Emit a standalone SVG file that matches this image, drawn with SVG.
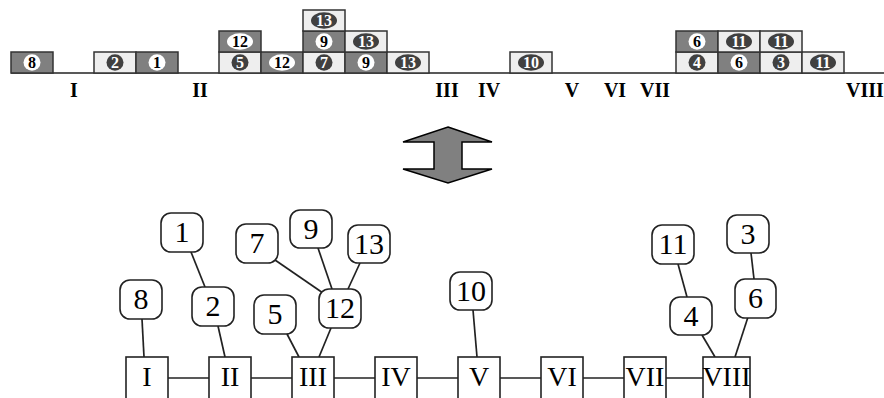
<svg xmlns="http://www.w3.org/2000/svg" width="884" height="398" viewBox="0 0 884 398">
<style>
.dk{fill:#808080;stroke:#333;stroke-width:1.5}
.lt{fill:#eeeeee;stroke:#333;stroke-width:1.5}
.we{fill:#ffffff}
.de{fill:#404040}
.wt{font-family:"Liberation Serif",serif;font-weight:bold;font-size:16px;fill:#000;text-anchor:middle}
.dt{font-family:"Liberation Serif",serif;font-weight:bold;font-size:16px;fill:#fff;text-anchor:middle}
.rl{font-family:"Liberation Serif",serif;font-weight:bold;font-size:20px;fill:#000;text-anchor:middle}
.sq{fill:#fff;stroke:#222;stroke-width:1.6}
.rn{fill:#fff;stroke:#222;stroke-width:1.6}
.bt{font-family:"Liberation Serif",serif;font-size:28px;fill:#000;text-anchor:middle}
.nt{font-family:"Liberation Serif",serif;font-size:30px;fill:#000;text-anchor:middle}
.ln{stroke:#222;stroke-width:1.7;fill:none}
</style>
<g id="timeline">
<line x1="11" y1="73" x2="884" y2="73" class="ln"/>
<text x="74" y="97" class="rl">I</text>
<text x="200" y="97" class="rl">II</text>
<text x="447" y="97" class="rl">III</text>
<text x="489" y="97" class="rl">IV</text>
<text x="572" y="97" class="rl">V</text>
<text x="615" y="97" class="rl">VI</text>
<text x="655" y="97" class="rl">VII</text>
<text x="865" y="97" class="rl">VIII</text>
</g>
<g id="top-blocks">
<rect x="11" y="52" width="42" height="21" class="dk"/><ellipse cx="32" cy="62.5" rx="8.5" ry="8.3" class="we"/><text x="32" y="68" class="wt">8</text>
<rect x="94" y="52" width="42" height="21" class="lt"/><ellipse cx="115" cy="62.5" rx="8.5" ry="8.3" class="de"/><text x="115" y="68" class="dt">2</text>
<rect x="136" y="52" width="42" height="21" class="dk"/><ellipse cx="157" cy="62.5" rx="8.5" ry="8.3" class="we"/><text x="157" y="68" class="wt">1</text>
<rect x="219" y="52" width="42" height="21" class="lt"/><ellipse cx="240" cy="62.5" rx="8.5" ry="8.3" class="de"/><text x="240" y="68" class="dt">5</text>
<rect x="261" y="52" width="42" height="21" class="dk"/><ellipse cx="282" cy="62.5" rx="13" ry="8.3" class="we"/><text x="282" y="68" class="wt">12</text>
<rect x="303" y="52" width="42" height="21" class="lt"/><ellipse cx="324" cy="62.5" rx="8.5" ry="8.3" class="de"/><text x="324" y="68" class="dt">7</text>
<rect x="345" y="52" width="42" height="21" class="dk"/><ellipse cx="366" cy="62.5" rx="8.5" ry="8.3" class="we"/><text x="366" y="68" class="wt">9</text>
<rect x="387" y="52" width="42" height="21" class="lt"/><ellipse cx="408" cy="62.5" rx="13" ry="8.3" class="de"/><text x="408" y="68" class="dt">13</text>
<rect x="510" y="52" width="42" height="21" class="lt"/><ellipse cx="531" cy="62.5" rx="13" ry="8.3" class="de"/><text x="531" y="68" class="dt">10</text>
<rect x="676" y="52" width="42" height="21" class="lt"/><ellipse cx="697" cy="62.5" rx="8.5" ry="8.3" class="de"/><text x="697" y="68" class="dt">4</text>
<rect x="718" y="52" width="42" height="21" class="dk"/><ellipse cx="739" cy="62.5" rx="8.5" ry="8.3" class="we"/><text x="739" y="68" class="wt">6</text>
<rect x="760" y="52" width="42" height="21" class="lt"/><ellipse cx="781" cy="62.5" rx="8.5" ry="8.3" class="de"/><text x="781" y="68" class="dt">3</text>
<rect x="802" y="52" width="42" height="21" class="lt"/><ellipse cx="823" cy="62.5" rx="13" ry="8.3" class="de"/><text x="823" y="68" class="dt">11</text>
<rect x="219" y="31" width="42" height="21" class="dk"/><ellipse cx="240" cy="41.5" rx="13" ry="8.3" class="we"/><text x="240" y="47" class="wt">12</text>
<rect x="303" y="31" width="42" height="21" class="dk"/><ellipse cx="324" cy="41.5" rx="8.5" ry="8.3" class="we"/><text x="324" y="47" class="wt">9</text>
<rect x="345" y="31" width="42" height="21" class="lt"/><ellipse cx="366" cy="41.5" rx="13" ry="8.3" class="de"/><text x="366" y="47" class="dt">13</text>
<rect x="676" y="31" width="42" height="21" class="dk"/><ellipse cx="697" cy="41.5" rx="8.5" ry="8.3" class="we"/><text x="697" y="47" class="wt">6</text>
<rect x="718" y="31" width="42" height="21" class="lt"/><ellipse cx="739" cy="41.5" rx="13" ry="8.3" class="de"/><text x="739" y="47" class="dt">11</text>
<rect x="760" y="31" width="42" height="21" class="lt"/><ellipse cx="781" cy="41.5" rx="13" ry="8.3" class="de"/><text x="781" y="47" class="dt">11</text>
<rect x="303" y="10" width="42" height="21" class="lt"/><ellipse cx="324" cy="20.5" rx="13" ry="8.3" class="de"/><text x="324" y="26" class="dt">13</text>
</g>
<g id="arrow">
<polygon points="448,127 492,142 462,142 462,169 492,169 448,183 403,169 434,169 434,142 403,142" fill="#808080" stroke="#000" stroke-width="1.5" stroke-linejoin="miter"/>
</g>
<g id="connectors">
<line x1="168" y1="378" x2="209" y2="378" class="ln"/>
<line x1="251" y1="378" x2="292" y2="378" class="ln"/>
<line x1="334" y1="378" x2="375" y2="378" class="ln"/>
<line x1="417" y1="378" x2="458" y2="378" class="ln"/>
<line x1="500" y1="378" x2="541" y2="378" class="ln"/>
<line x1="583" y1="378" x2="624" y2="378" class="ln"/>
<line x1="666" y1="378" x2="703" y2="378" class="ln"/>
<line x1="142" y1="319" x2="144" y2="357" class="ln"/>
<line x1="191" y1="252" x2="205" y2="287" class="ln"/>
<line x1="218" y1="326" x2="225" y2="357" class="ln"/>
<line x1="287" y1="334" x2="299" y2="357" class="ln"/>
<line x1="331" y1="328" x2="319" y2="357" class="ln"/>
<line x1="275" y1="260" x2="323" y2="293" class="ln"/>
<line x1="318" y1="248" x2="332" y2="289" class="ln"/>
<line x1="360" y1="263" x2="348" y2="289" class="ln"/>
<line x1="473" y1="310" x2="477" y2="357" class="ln"/>
<line x1="678" y1="264" x2="687" y2="297" class="ln"/>
<line x1="702" y1="335" x2="715" y2="357" class="ln"/>
<line x1="748" y1="317" x2="735" y2="357" class="ln"/>
<line x1="751" y1="253" x2="754" y2="279" class="ln"/>
</g>
<g id="n-I"><rect x="126" y="357" width="42" height="60" class="sq"/><text x="147" y="386" class="bt">I</text></g>
<g id="n-II"><rect x="209" y="357" width="42" height="60" class="sq"/><text x="230" y="386" class="bt">II</text></g>
<g id="n-III"><rect x="292" y="357" width="42" height="60" class="sq"/><text x="313" y="386" class="bt">III</text></g>
<g id="n-IV"><rect x="375" y="357" width="42" height="60" class="sq"/><text x="396" y="386" class="bt">IV</text></g>
<g id="n-V"><rect x="458" y="357" width="42" height="60" class="sq"/><text x="479" y="386" class="bt">V</text></g>
<g id="n-VI"><rect x="541" y="357" width="42" height="60" class="sq"/><text x="562" y="386" class="bt">VI</text></g>
<g id="n-VII"><rect x="624" y="357" width="42" height="60" class="sq"/><text x="645" y="386" class="bt">VII</text></g>
<g id="n-VIII"><rect x="703" y="357" width="47" height="60" class="sq"/><text x="726.5" y="386" class="bt">VIII</text></g>
<g id="n8"><rect x="120" y="280" width="42" height="39" rx="10" class="rn"/><text x="141" y="309" class="nt">8</text></g>
<g id="n1"><rect x="161" y="213" width="42" height="39" rx="10" class="rn"/><text x="182" y="242" class="nt">1</text></g>
<g id="n2"><rect x="192" y="287" width="42" height="39" rx="10" class="rn"/><text x="213" y="316" class="nt">2</text></g>
<g id="n5"><rect x="254" y="295" width="42" height="39" rx="10" class="rn"/><text x="275" y="324" class="nt">5</text></g>
<g id="n7"><rect x="236" y="224" width="42" height="39" rx="10" class="rn"/><text x="257" y="253" class="nt">7</text></g>
<g id="n9"><rect x="290" y="210" width="42" height="38" rx="10" class="rn"/><text x="311" y="239" class="nt">9</text></g>
<g id="n13"><rect x="348" y="225" width="42" height="38" rx="10" class="rn"/><text x="369" y="254" class="nt">13</text></g>
<g id="n12"><rect x="319" y="289" width="42" height="39" rx="10" class="rn"/><text x="340" y="318" class="nt">12</text></g>
<g id="n10"><rect x="450" y="272" width="42" height="38" rx="10" class="rn"/><text x="471" y="301" class="nt">10</text></g>
<g id="n11"><rect x="652" y="225" width="42" height="39" rx="10" class="rn"/><text x="673" y="254" class="nt">11</text></g>
<g id="n4"><rect x="670" y="297" width="42" height="38" rx="10" class="rn"/><text x="691" y="326" class="nt">4</text></g>
<g id="n3"><rect x="727" y="215" width="42" height="38" rx="10" class="rn"/><text x="748" y="244" class="nt">3</text></g>
<g id="n6"><rect x="735" y="279" width="41" height="39" rx="10" class="rn"/><text x="755.5" y="308" class="nt">6</text></g>
</svg>
